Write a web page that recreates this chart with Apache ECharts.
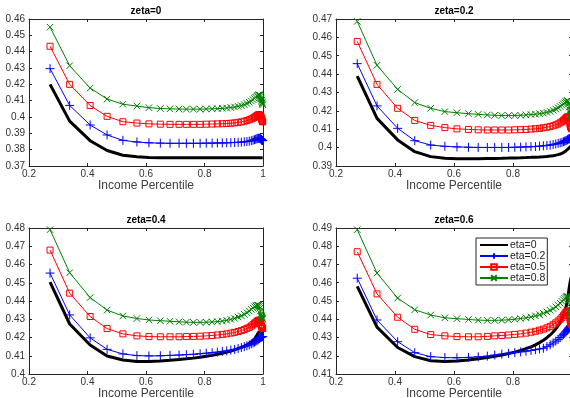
<!DOCTYPE html>
<html><head><meta charset="utf-8">
<script src="https://cdn.jsdelivr.net/npm/echarts/dist/echarts.min.js"></script>
<style>html,body{margin:0;padding:0;background:#fff}#c{width:570px;height:398px}</style>
</head><body><div id="c"></div>
<script>
// Income percentile grid (x values)
const xPct = [0.272,0.339,0.409,0.467,0.521,0.569,0.610,0.649,0.682,0.713,
  0.738,0.762,0.785,0.806,0.826,0.844,0.861,0.876,0.890,0.903,
  0.915,0.926,0.936,0.945,0.953,0.960,0.966,0.971,0.975,0.979,
  0.982,0.985,0.987,0.989,0.991,0.993,0.994,0.995,0.996,0.997,0.998,0.999];

const zetaTitles = ['zeta=0','zeta=0.2','zeta=0.4','zeta=0.6'];
const etaNames = ['eta=0','eta=0.2','eta=0.5','eta=0.8'];
const yMins = [0.37,0.39,0.40,0.41];
const yMaxs = [0.46,0.47,0.48,0.49];

// zeta = 0
const z0_eta0 = [0.4200,0.3975,0.3855,0.3795,0.3766,0.3756,0.3752,0.3751,0.3750,0.3750,
  0.3750,0.3750,0.3750,0.3750,0.3750,0.3750,0.3750,0.3750,0.3750,0.3750,
  0.3750,0.3750,0.3750,0.3750,0.3750,0.3750,0.3750,0.3750,0.3750,0.3750,
  0.3750,0.3750,0.3750,0.3750,0.3750,0.3750,0.3750,0.3750,0.3750,0.3750,0.3750,0.3750];
const z0_eta02 = [0.4296,0.4071,0.3951,0.3890,0.3857,0.3847,0.3842,0.3840,0.3839,0.3839,
  0.3839,0.3839,0.3839,0.3840,0.3840,0.3841,0.3841,0.3842,0.3843,0.3844,
  0.3845,0.3846,0.3848,0.3850,0.3852,0.3855,0.3858,0.3861,0.3864,0.3867,
  0.3869,0.3870,0.3870,0.3869,0.3867,0.3865,0.3863,0.3861,0.3859,0.3857,0.3856,0.3855];
const z0_eta05 = [0.4433,0.4200,0.4070,0.4004,0.3971,0.3963,0.3958,0.3956,0.3955,0.3955,
  0.3955,0.3955,0.3955,0.3956,0.3957,0.3958,0.3959,0.3960,0.3962,0.3964,
  0.3967,0.3970,0.3974,0.3978,0.3983,0.3988,0.3993,0.3998,0.4003,0.4008,
  0.4012,0.4014,0.4014,0.4012,0.4008,0.4002,0.3996,0.3990,0.3984,0.3978,0.3973,0.3970];
const z0_eta08 = [0.4550,0.4314,0.4177,0.4110,0.4078,0.4067,0.4057,0.4052,0.4050,0.4049,
  0.4048,0.4048,0.4048,0.4049,0.4050,0.4051,0.4053,0.4055,0.4058,0.4061,
  0.4065,0.4070,0.4076,0.4083,0.4090,0.4098,0.4106,0.4114,0.4121,0.4128,
  0.4133,0.4136,0.4136,0.4133,0.4127,0.4118,0.4110,0.4102,0.4094,0.4087,0.4080,0.4075];

// zeta = 0.2
const z2_eta0 = [0.4389,0.4159,0.4042,0.3978,0.3951,0.3942,0.3940,0.3940,0.3940,0.3941,
  0.3941,0.3942,0.3943,0.3944,0.3945,0.3946,0.3947,0.3948,0.3949,0.3950,
  0.3952,0.3954,0.3956,0.3959,0.3962,0.3965,0.3969,0.3973,0.3977,0.3982,
  0.3986,0.3990,0.3993,0.3996,0.3999,0.4002,0.4004,0.4006,0.4008,0.4010,0.4012,0.4014];
const z2_eta02 = [0.4457,0.4227,0.4105,0.4038,0.4014,0.4007,0.4004,0.4002,0.4001,0.4001,
  0.4001,0.4001,0.4001,0.4002,0.4003,0.4004,0.4005,0.4006,0.4008,0.4010,
  0.4012,0.4014,0.4017,0.4020,0.4023,0.4026,0.4029,0.4032,0.4035,0.4038,
  0.4040,0.4043,0.4045,0.4047,0.4049,0.4050,0.4050,0.4050,0.4049,0.4048,0.4047,0.4046];
const z2_eta05 = [0.4578,0.4344,0.4214,0.4148,0.4121,0.4109,0.4102,0.4099,0.4097,0.4096,
  0.4096,0.4096,0.4096,0.4097,0.4098,0.4099,0.4101,0.4103,0.4105,0.4108,
  0.4111,0.4115,0.4119,0.4124,0.4129,0.4135,0.4141,0.4148,0.4154,0.4160,
  0.4165,0.4168,0.4166,0.4158,0.4145,0.4130,0.4122,0.4116,0.4112,0.4108,0.4105,0.4102];
const z2_eta08 = [0.4687,0.4448,0.4317,0.4245,0.4214,0.4196,0.4190,0.4185,0.4181,0.4178,
  0.4176,0.4175,0.4175,0.4175,0.4176,0.4178,0.4180,0.4182,0.4185,0.4188,
  0.4192,0.4197,0.4203,0.4210,0.4217,0.4224,0.4231,0.4238,0.4244,0.4250,
  0.4254,0.4256,0.4252,0.4240,0.4222,0.4205,0.4195,0.4188,0.4182,0.4177,0.4173,0.4170];

// zeta = 0.4
const z4_eta0 = [0.4503,0.4274,0.4159,0.4099,0.4077,0.4069,0.4068,0.4071,0.4075,0.4079,
  0.4083,0.4087,0.4092,0.4097,0.4102,0.4108,0.4114,0.4120,0.4126,0.4132,
  0.4139,0.4146,0.4153,0.4160,0.4167,0.4175,0.4183,0.4192,0.4201,0.4212,
  0.4220,0.4228,0.4232,0.4235,0.4237,0.4238,0.4238,0.4238,0.4238,0.4238,0.4238,0.4238];
const z4_eta02 = [0.4553,0.4324,0.4198,0.4135,0.4110,0.4101,0.4099,0.4100,0.4102,0.4104,
  0.4106,0.4108,0.4111,0.4114,0.4117,0.4120,0.4124,0.4127,0.4131,0.4135,
  0.4140,0.4145,0.4150,0.4155,0.4160,0.4165,0.4170,0.4175,0.4179,0.4183,
  0.4187,0.4191,0.4194,0.4197,0.4200,0.4202,0.4203,0.4204,0.4205,0.4205,0.4205,0.4205];
const z4_eta05 = [0.4679,0.4443,0.4315,0.4249,0.4220,0.4209,0.4205,0.4204,0.4204,0.4204,
  0.4205,0.4206,0.4207,0.4209,0.4211,0.4214,0.4217,0.4220,0.4224,0.4228,
  0.4233,0.4238,0.4244,0.4250,0.4256,0.4263,0.4270,0.4277,0.4283,0.4288,
  0.4292,0.4295,0.4294,0.4290,0.4282,0.4272,0.4266,0.4261,0.4257,0.4254,0.4251,0.4249];
const z4_eta08 = [0.4791,0.4555,0.4419,0.4350,0.4318,0.4304,0.4296,0.4292,0.4289,0.4286,
  0.4284,0.4283,0.4283,0.4284,0.4285,0.4287,0.4290,0.4294,0.4299,0.4305,
  0.4312,0.4319,0.4327,0.4336,0.4345,0.4354,0.4362,0.4369,0.4374,0.4377,
  0.4378,0.4376,0.4370,0.4360,0.4345,0.4330,0.4322,0.4316,0.4311,0.4307,0.4304,0.4301];

// zeta = 0.6
const z6_eta0 = [0.4580,0.4357,0.4245,0.4195,0.4173,0.4168,0.4171,0.4177,0.4183,0.4190,
  0.4197,0.4204,0.4212,0.4220,0.4229,0.4239,0.4249,0.4260,0.4272,0.4285,
  0.4299,0.4314,0.4330,0.4347,0.4364,0.4382,0.4400,0.4420,0.4440,0.4462,
  0.4485,0.4510,0.4532,0.4555,0.4578,0.4598,0.4607,0.4615,0.4622,0.4628,0.4633,0.4637];
const z6_eta02 = [0.4625,0.4396,0.4277,0.4217,0.4195,0.4190,0.4189,0.4191,0.4194,0.4198,
  0.4204,0.4209,0.4213,0.4217,0.4221,0.4225,0.4229,0.4233,0.4237,0.4241,
  0.4250,0.4260,0.4270,0.4280,0.4290,0.4300,0.4309,0.4317,0.4324,0.4331,
  0.4337,0.4343,0.4347,0.4351,0.4355,0.4358,0.4360,0.4362,0.4363,0.4364,0.4365,0.4366];
const z6_eta05 = [0.4770,0.4539,0.4411,0.4345,0.4316,0.4309,0.4305,0.4304,0.4304,0.4306,
  0.4309,0.4311,0.4314,0.4317,0.4320,0.4324,0.4329,0.4334,0.4340,0.4346,
  0.4353,0.4361,0.4370,0.4380,0.4390,0.4400,0.4410,0.4420,0.4429,0.4437,
  0.4442,0.4445,0.4443,0.4435,0.4420,0.4405,0.4395,0.4388,0.4382,0.4378,0.4374,0.4370];
const z6_eta08 = [0.4891,0.4653,0.4516,0.4452,0.4423,0.4408,0.4403,0.4399,0.4395,0.4394,
  0.4394,0.4395,0.4397,0.4400,0.4404,0.4408,0.4413,0.4419,0.4425,0.4432,
  0.4440,0.4449,0.4458,0.4468,0.4478,0.4488,0.4498,0.4507,0.4515,0.4521,
  0.4525,0.4526,0.4520,0.4505,0.4480,0.4455,0.4440,0.4430,0.4422,0.4416,0.4411,0.4407];

const panels = [
  [z0_eta0, z0_eta02, z0_eta05, z0_eta08],
  [z2_eta0, z2_eta02, z2_eta05, z2_eta08],
  [z4_eta0, z4_eta02, z4_eta05, z4_eta08],
  [z6_eta0, z6_eta02, z6_eta05, z6_eta08]
];

const FONT = 'Liberation Sans, Arial, Helvetica, sans-serif';
const AX = '#262626';
const grids = [
  {left: 29, top: 19, width: 234, height: 147, outerBoundsMode: 'none'},
  {left: 336, top: 19, width: 236, height: 147, outerBoundsMode: 'none'},
  {left: 29, top: 228, width: 234, height: 146, outerBoundsMode: 'none'},
  {left: 336, top: 228, width: 236, height: 146, outerBoundsMode: 'none'}
];
const TRANSP = 'rgba(0,0,0,0)';
const styles = [
  {color: '#000000', width: 3, symbol: 'circle', size: 1},
  {color: '#0000ff', width: 1, symbol: 'path://M0,5L10,5M5,0L5,10', size: 9},
  {color: '#ff0000', width: 1, symbol: 'path://M0,0L10,0L10,10L0,10Z', size: 6},
  {color: '#008000', width: 1, symbol: 'path://M0,0L10,10M0,10L10,0', size: 6.5}
];

const xAxes = [], yAxes = [], series = [];
grids.forEach((g, i) => {
  const rightCol = (i % 2 === 1);
  xAxes.push({
    type: 'value', gridIndex: i, min: 0.2, max: 1, interval: 0.2, position: 'bottom',
    name: 'Income Percentile', nameLocation: 'middle', nameGap: i < 2 ? 10 : 11,
    nameTextStyle: {fontFamily: FONT, fontSize: 12, color: '#404040'},
    axisLine: {show: true, onZero: false, lineStyle: {color: AX, width: 1}},
    axisTick: {show: true, inside: true, length: 3, lineStyle: {color: AX}},
    axisLabel: {show: true, margin: 3, fontFamily: FONT, fontSize: 10, color: '#333',
      showMaxLabel: !rightCol, formatter: v => String(+v.toFixed(2))},
    splitLine: {show: false}
  });
  xAxes.push({
    type: 'value', gridIndex: i, min: 0.2, max: 1, interval: 0.2, position: 'top',
    name: zetaTitles[i], nameLocation: 'middle', nameGap: 3,
    nameTextStyle: {fontFamily: FONT, fontSize: 10, fontWeight: 'bold', color: '#000'},
    axisLine: {show: true, onZero: false, lineStyle: {color: AX, width: 1}},
    axisTick: {show: true, inside: true, length: 3, lineStyle: {color: AX}},
    axisLabel: {show: false}, splitLine: {show: false}
  });
  yAxes.push({
    type: 'value', gridIndex: i, min: yMins[i], max: yMaxs[i], interval: 0.01, position: 'left',
    axisLine: {show: true, onZero: false, lineStyle: {color: AX, width: 1}},
    axisTick: {show: true, inside: true, length: 3, lineStyle: {color: AX}},
    axisLabel: {show: true, margin: 4, fontFamily: FONT, fontSize: 10, color: '#333',
      formatter: v => String(+v.toFixed(2))},
    splitLine: {show: false}
  });
  yAxes.push({
    type: 'value', gridIndex: i, min: yMins[i], max: yMaxs[i], interval: 0.01, position: 'right',
    axisLine: {show: true, onZero: false, lineStyle: {color: AX, width: 1}},
    axisTick: {show: true, inside: true, length: 3, lineStyle: {color: AX}},
    axisLabel: {show: false}, splitLine: {show: false}
  });
  panels[i].forEach((arr, k) => {
    const s = styles[k];
    series.push({
      type: 'line', name: etaNames[k], xAxisIndex: 2 * i, yAxisIndex: 2 * i,
      data: xPct.map((x, j) => [x, arr[j]]),
      symbol: s.symbol, symbolSize: s.size, showSymbol: k > 0, showAllSymbol: true,
      lineStyle: {color: s.color, width: s.width},
      itemStyle: {color: TRANSP, borderColor: k === 0 ? TRANSP : s.color, borderWidth: 1},
      emphasis: {disabled: true}, z: 2 + k, animation: false, clip: true
    });
  });
});

const chart = echarts.init(document.getElementById('c'), null, {renderer: 'canvas'});
chart.setOption({
  backgroundColor: '#fff',
  animation: false,
  grid: grids,
  xAxis: xAxes,
  yAxis: yAxes,
  legend: {
    data: etaNames, orient: 'vertical', left: 476, top: 238,
    itemWidth: 28, itemHeight: 7, itemGap: 0, padding: [1.5, 2, 1.5, 3],
    backgroundColor: '#fff', borderColor: AX, borderWidth: 1, borderRadius: 0,
    selectedMode: false,
    textStyle: {fontFamily: FONT, fontSize: 10.5, color: '#222', padding: [0, 0, 0, -3]}
  },
  series: series
});
</script></body></html>
